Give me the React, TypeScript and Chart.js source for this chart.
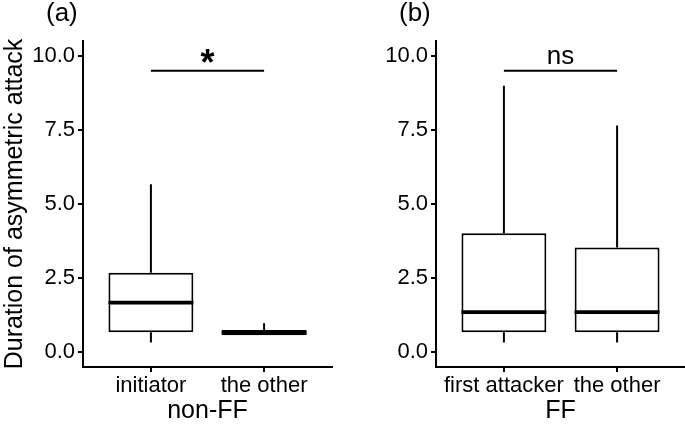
import React, { useEffect, useRef } from "react";
import { Chart, registerables } from "chart.js";

Chart.register(...registerables);

const FONT = "'Liberation Sans', Arial, sans-serif";

// Shared y ticks
const yTicks = [0, 2.5, 5, 7.5, 10];

// Panel (a) non-FF
const catsA = ["initiator", "the other"];
const minA = [0.33, 0.57];
const q1A = [0.67, 0.57];
const medA = [1.67, 0.66];
const q3A = [2.68, 0.75];
const maxA = [5.67, 0.98];
const sigA = "*";
const titleA = "non-FF";
const tagA = "(a)";

// Panel (b) FF
const catsB = ["first attacker", "the other"];
const minB = [0.33, 0.33];
const q1B = [0.67, 0.67];
const medB = [1.35, 1.35];
const q3B = [4.01, 3.53];
const maxB = [8.99, 7.65];
const sigB = "ns";
const titleB = "FF";
const tagB = "(b)";

const sigLevel = 9.5;
const yTitle = "Duration of asymmetric attack";

const LW = 2;

type Panel = {
  cats: string[];
  mins: number[];
  q1s: number[];
  meds: number[];
  q3s: number[];
  maxs: number[];
  sig: string;
  title: string;
  tag: string;
  showYTitle: boolean;
  yWidth: number;
  padRight: number;
};

function makeConfig(p: Panel): any {
  const plugin = {
    id: "boxExtras",
    beforeDatasetsDraw(chart: any) {
      const { ctx, scales } = chart;
      const x = scales.x;
      const y = scales.y;
      ctx.save();
      ctx.strokeStyle = "#000";
      ctx.lineWidth = LW;
      ctx.lineCap = "butt";
      p.cats.forEach((_, i) => {
        const px = x.getPixelForValue(i + 1);
        ctx.beginPath();
        ctx.moveTo(px, y.getPixelForValue(p.q3s[i]));
        ctx.lineTo(px, y.getPixelForValue(p.maxs[i]));
        ctx.moveTo(px, y.getPixelForValue(p.q1s[i]));
        ctx.lineTo(px, y.getPixelForValue(p.mins[i]));
        ctx.stroke();
      });
      ctx.restore();
    },
    afterDatasetsDraw(chart: any) {
      const { ctx, scales, chartArea } = chart;
      const x = scales.x;
      const y = scales.y;
      const meta = chart.getDatasetMeta(0);
      ctx.save();
      ctx.strokeStyle = "#000";
      ctx.fillStyle = "#000";
      // medians
      ctx.lineWidth = 3.8;
      p.cats.forEach((_, i) => {
        const bar = meta.data[i];
        const half = bar.width / 2;
        const py = y.getPixelForValue(p.meds[i]);
        ctx.beginPath();
        ctx.moveTo(bar.x - half, py);
        ctx.lineTo(bar.x + half, py);
        ctx.stroke();
      });
      // significance bar
      ctx.lineWidth = LW;
      const sy = y.getPixelForValue(sigLevel);
      const x1 = x.getPixelForValue(1);
      const x2 = x.getPixelForValue(2);
      ctx.beginPath();
      ctx.moveTo(x1, sy);
      ctx.lineTo(x2, sy);
      ctx.stroke();
      ctx.textAlign = "center";
      ctx.textBaseline = "alphabetic";
      if (p.sig === "*") {
        ctx.font = `bold 36px ${FONT}`;
        ctx.fillText(p.sig, (x1 + x2) / 2, sy + 4);
      } else {
        ctx.font = `26px ${FONT}`;
        ctx.fillText(p.sig, (x1 + x2) / 2, sy - 7);
      }
      // panel tag
      ctx.textAlign = "left";
      ctx.font = `26px ${FONT}`;
      ctx.fillText(p.tag, chartArea.left - 37, 21);
      ctx.restore();
    },
  };

  return {
    type: "bar",
    data: {
      datasets: [
        {
          data: p.cats.map((_, i) => ({ x: i + 1, y: [p.q1s[i], p.q3s[i]] })),
          backgroundColor: "#ffffff",
          borderColor: "#000000",
          borderWidth: LW,
          borderSkipped: false,
          barPercentage: 0.75,
          categoryPercentage: 1,
        },
      ],
    },
    options: {
      animation: false,
      responsive: true,
      maintainAspectRatio: false,
      events: [],
      layout: { padding: { top: 41, right: p.padRight, left: 0, bottom: 0 } },
      plugins: { legend: { display: false }, tooltip: { enabled: false } },
      scales: {
        x: {
          type: "linear",
          min: 0.4,
          max: 2.6,
          offset: false,
          afterBuildTicks: (s: any) => {
            s.ticks = p.cats.map((_, i) => ({ value: i + 1 }));
          },
          afterFit: (s: any) => {
            s.height = 62;
          },
          ticks: {
            autoSkip: false,
            maxRotation: 0,
            color: "#000",
            padding: 1,
            font: { family: FONT, size: 22 },
            callback: (v: number) => p.cats[Math.round(v) - 1] ?? "",
          },
          grid: {
            offset: false,
            drawOnChartArea: false,
            drawTicks: true,
            tickLength: 5,
            color: "#000",
            lineWidth: LW,
          },
          border: { display: true, color: "#000", width: LW },
          title: {
            display: true,
            text: p.title,
            color: "#000",
            font: { family: FONT, size: 25 },
            padding: { top: 0, bottom: 3 },
          },
        },
        y: {
          min: -0.5,
          max: 10.5,
          afterBuildTicks: (s: any) => {
            s.ticks = yTicks.map((v) => ({ value: v }));
          },
          afterFit: (s: any) => {
            s.width = p.yWidth;
          },
          ticks: {
            color: "#000",
            padding: 3,
            font: { family: FONT, size: 22 },
            callback: (v: number) => v.toFixed(1),
          },
          grid: {
            drawOnChartArea: false,
            drawTicks: true,
            tickLength: 5,
            color: "#000",
            lineWidth: LW,
          },
          border: { display: true, color: "#000", width: LW },
          title: {
            display: p.showYTitle,
            text: yTitle,
            color: "#000",
            font: { family: FONT, size: 25 },
            padding: { top: 0, bottom: 0 },
          },
        },
      },
    },
    plugins: [plugin],
  };
}

export default function App() {
  const refA = useRef<HTMLCanvasElement>(null);
  const refB = useRef<HTMLCanvasElement>(null);

  useEffect(() => {
    const a = new Chart(
      refA.current!,
      makeConfig({
        cats: catsA,
        mins: minA,
        q1s: q1A,
        meds: medA,
        q3s: q3A,
        maxs: maxA,
        sig: sigA,
        title: titleA,
        tag: tagA,
        showYTitle: true,
        yWidth: 83,
        padRight: 8,
      })
    );
    const b = new Chart(
      refB.current!,
      makeConfig({
        cats: catsB,
        mins: minB,
        q1s: q1B,
        meds: medB,
        q3s: q3B,
        maxs: maxB,
        sig: sigB,
        title: titleB,
        tag: tagB,
        showYTitle: false,
        yWidth: 96,
        padRight: 0,
      })
    );
    return () => {
      a.destroy();
      b.destroy();
    };
  }, []);

  return (
    <div
      style={{
        position: "absolute",
        left: 0,
        top: 0,
        width: 685,
        height: 429,
        background: "#ffffff",
        overflow: "hidden",
      }}
    >
      <div style={{ position: "absolute", left: 0, top: 0, width: 340, height: 429 }}>
        <canvas ref={refA} />
      </div>
      <div style={{ position: "absolute", left: 340, top: 0, width: 345, height: 429 }}>
        <canvas ref={refB} />
      </div>
    </div>
  );
}
